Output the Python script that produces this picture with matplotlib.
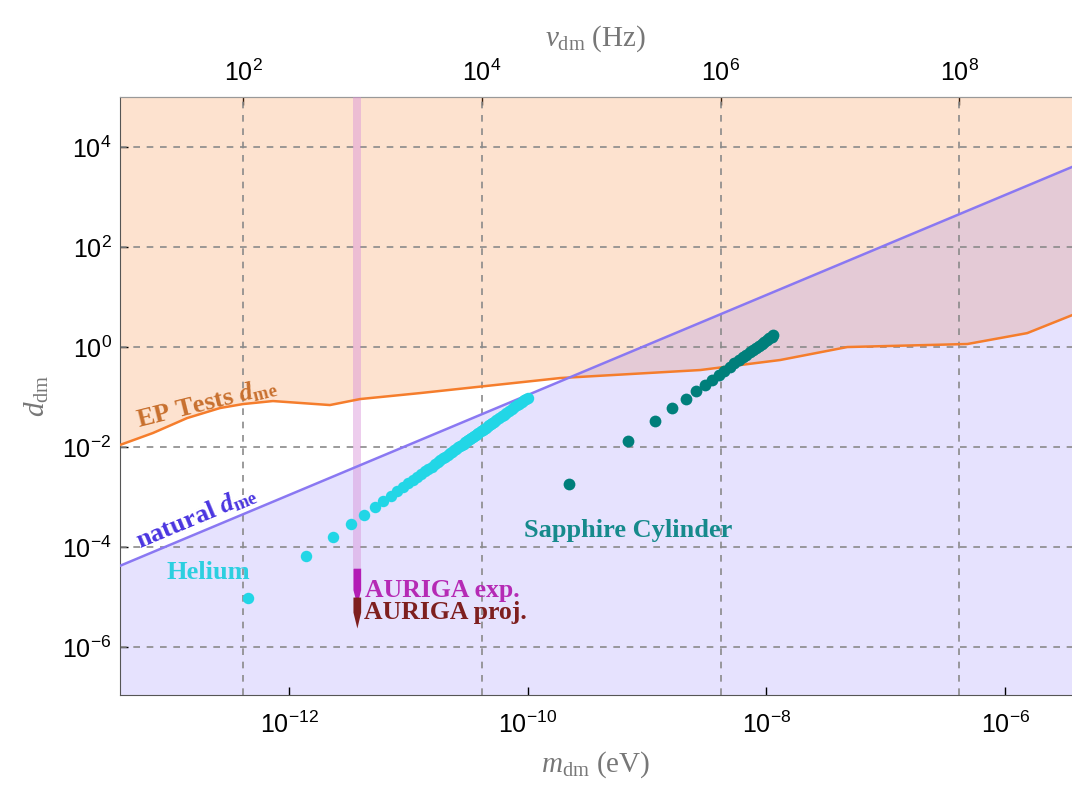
import numpy as np
import matplotlib
matplotlib.use("Agg")
import matplotlib.pyplot as plt

plt.rcParams['font.family'] = ['Liberation Sans', 'DejaVu Sans']
plt.rcParams['mathtext.fontset'] = 'custom'
plt.rcParams['mathtext.rm'] = 'Liberation Serif'
plt.rcParams['mathtext.it'] = 'Liberation Serif:italic'
plt.rcParams['mathtext.bf'] = 'Liberation Serif:bold'
plt.rcParams['mathtext.bfit'] = 'Liberation Serif:italic:bold'

h_ev = 4.135667e-15  # eV s

# EP tests bound (m in eV, d_me)
ep_m = [3.83e-14, 7.24e-14, 1.40e-13, 2.64e-13, 4.11e-13, 7.33e-13, 2.20e-12,
        3.94e-12, 1.25e-11, 1.87e-10, 2.79e-9, 1.30e-8, 4.75e-8, 4.82e-7, 1.53e-6, 3.66e-6]
ep_d = [1.10e-2, 1.91e-2, 3.80e-2, 6.03e-2, 7.24e-2, 8.32e-2, 6.92e-2,
        9.12e-2, 1.20e-1, 2.40e-1, 3.47e-1, 5.50e-1, 1.00, 1.15, 1.90, 4.37]

# natural d_me
nat_m = [1e-14, 1e-5]
nat_d = [1.1e-5, 1.1e4]

# Helium
he_m = np.array([0.45, 1.40, 2.35, 3.30, 4.25, 5.20, 6.15, 7.10, 8.05, 9.00, 9.95, 10.9,
                 11.85, 12.8, 13.75, 14.7, 15.65, 16.6, 17.55, 18.5, 19.45, 20.4, 21.35,
                 22.3, 23.25, 24.2, 25.15, 26.1, 27.05, 28.0, 28.95, 29.9, 30.85, 31.8,
                 32.75, 33.7, 34.65, 35.6, 36.55, 37.5, 38.45, 40.35, 41.78, 43.2, 44.63,
                 46.05, 47.48, 48.9, 50.33, 51.75, 54.6, 57.45, 60.3, 63.15, 66.0, 69.8,
                 73.6, 77.4, 81.2, 85.0, 88.8, 92.6, 96.4, 100.0]) * 1e-12
he_d = [9.4e-6, 6.6e-5, 1.59e-4, 2.85e-4, 4.38e-4, 6.2e-4, 8.26e-4, 1.05e-3, 1.31e-3,
        1.58e-3, 1.88e-3, 2.19e-3, 2.54e-3, 2.89e-3, 3.27e-3, 3.66e-3, 4.08e-3, 4.51e-3,
        4.95e-3, 5.43e-3, 5.92e-3, 6.43e-3, 6.93e-3, 7.46e-3, 8.02e-3, 8.61e-3, 9.18e-3,
        9.8e-3, 1.04e-2, 1.10e-2, 1.17e-2, 1.24e-2, 1.30e-2, 1.37e-2, 1.44e-2, 1.52e-2,
        1.59e-2, 1.66e-2, 1.74e-2, 1.82e-2, 1.90e-2, 2.06e-2, 2.19e-2, 2.31e-2, 2.45e-2,
        2.58e-2, 2.72e-2, 2.86e-2, 3.01e-2, 3.15e-2, 3.45e-2, 3.77e-2, 4.09e-2, 4.43e-2,
        4.79e-2, 5.26e-2, 5.75e-2, 6.28e-2, 6.82e-2, 7.36e-2, 7.93e-2, 8.55e-2, 9.14e-2,
        9.73e-2]

# Sapphire cylinder
sa_m = np.array([0.22, 0.69, 1.16, 1.63, 2.10, 2.57, 3.04, 3.51, 3.98, 4.45, 4.92, 5.39,
                 5.86, 6.33, 6.80, 7.27, 7.74, 8.21, 8.68, 9.15, 9.62, 10.09, 10.56,
                 11.03, 11.4]) * 1e-9
sa_d = [1.86e-3, 1.35e-2, 3.31e-2, 6.03e-2, 9.33e-2, 0.132, 0.178, 0.224, 0.282, 0.339,
        0.407, 0.479, 0.550, 0.631, 0.708, 0.794, 0.891, 0.977, 1.07, 1.17, 1.29, 1.41,
        1.51, 1.62, 1.74]

# AURIGA
au_m = [3.43e-12, 3.70e-12, 3.98e-12]
au_band_top = 1e5
au_band_bot = 3.8e-5
au_exp_lo = [1.4e-5, 7.0e-6, 1.4e-5]
au_exp_hi = 3.8e-5
au_proj_lo = [5.0e-6, 2.4e-6, 5.0e-6]
au_proj_hi = 1.0e-5

freq_ticks = [1e2, 1e4, 1e6, 1e8]
mass_ticks = [1e-12, 1e-10, 1e-8, 1e-6]
d_ticks = [1e4, 1e2, 1e0, 1e-2, 1e-4, 1e-6]

xmin, xmax = 3.83e-14, 3.63e-6
ymin, ymax = 1.1e-7, 1e5

fig = plt.figure(figsize=(10.72, 7.87), dpi=100)
ax = fig.add_axes([0.1119, 0.1169, 0.8881, 0.7598])
ax.set_xscale('log')
ax.set_yscale('log')
ax.set_xlim(xmin, xmax)
ax.set_ylim(ymin, ymax)

# fills
ax.fill_between(ep_m, ep_d, ymax, color=(247/255, 127/255, 40/255), alpha=0.22, lw=0, zorder=1)
ax.fill_between(nat_m, ymin, nat_d, color=(120/255, 100/255, 250/255), alpha=0.186, lw=0, zorder=1)

# grid
for f in freq_ticks:
    ax.axvline(f * h_ev, color='#8a8a8a', ls=(0, (4, 4)), lw=1.2, zorder=2)
for d in d_ticks:
    ax.axhline(d, color='#8a8a8a', ls=(0, (4, 4)), lw=1.2, zorder=2)

ax.plot(ep_m, ep_d, color='#f57d2c', lw=1.8, zorder=4)
ax.plot(nat_m, nat_d, color='#8a78f2', lw=1.8, zorder=4)

# AURIGA
ax.fill_betweenx([au_band_bot, au_band_top], au_m[0], au_m[-1], color='#d890d8', alpha=0.45, lw=0, zorder=3)
ax.fill_between(au_m, au_exp_lo, au_exp_hi, color='#b21db5', lw=0, zorder=5)
ax.fill_between(au_m, au_proj_lo, au_proj_hi, color='#7e1f1f', lw=0, zorder=5)

ax.scatter(he_m, he_d, s=68, color='#22d6e6', lw=0, zorder=6)
ax.scatter(sa_m, sa_d, s=72, color='#007f7b', lw=0, zorder=6)

# labels
lab = dict(fontweight='bold', family='Liberation Serif', zorder=7)
ax.text(2.05e-13, 7.4e-2, r'EP Tests $\mathbfit{d}_{\mathbf{me}}$', rotation=14, rotation_mode='anchor',
        ha='center', va='center', fontsize=19, color='#c8702e', **lab)
ax.text(1.69e-13, 4.0e-4, r'natural $\mathbfit{d}_{\mathbf{me}}$', rotation=22.7, rotation_mode='anchor',
        ha='center', va='center', fontsize=19, color='#4a35e0', **lab)
ax.text(2.09e-13, 3.16e-5, 'Helium', ha='center', va='center', fontsize=19, color='#2ccfe0', **lab)
ax.text(6.93e-10, 2.19e-4, 'Sapphire Cylinder', ha='center', va='center', fontsize=19,
        color='#168a8c', **lab)
ax.text(4.3e-12, 1.38e-5, 'AURIGA exp.', ha='left', va='center', fontsize=18.5, color='#b52ab5', **lab)
ax.text(4.25e-12, 5.0e-6, 'AURIGA proj.', ha='left', va='center', fontsize=18.5, color='#7e1f1f', **lab)

# axes styling
ax.set_xticks(mass_ticks)
ax.set_yticks(d_ticks)
ax.minorticks_off()
ax.tick_params(direction='in', length=6, width=1, labelsize=18)
ax.tick_params(axis='y', pad=6)
ax.tick_params(axis='x', pad=12)
ax.spines['right'].set_visible(False)
for s in ['left', 'bottom']:
    ax.spines[s].set_color('#555555')
ax.spines['top'].set_color('#999999')

ax.set_xlabel(r'$m_{\rm dm}$ (eV)', fontsize=21, family='Liberation Serif', color='#777777', labelpad=8)
ax.set_ylabel(r'$d_{\rm dm}$', fontsize=21, family='Liberation Serif', color='#777777', labelpad=8)

sec = ax.secondary_xaxis('top', functions=(lambda m: m / h_ev, lambda f: f * h_ev))
sec.set_xticks(freq_ticks)
sec.minorticks_off()
sec.tick_params(direction='in', length=6, width=1, labelsize=18, pad=8)
sec.spines['top'].set_color('#999999')
sec.set_xlabel(r'$\nu_{\rm dm}$ (Hz)', fontsize=21, family='Liberation Serif', color='#777777', labelpad=10)

fig.savefig('out.png', dpi=100)
